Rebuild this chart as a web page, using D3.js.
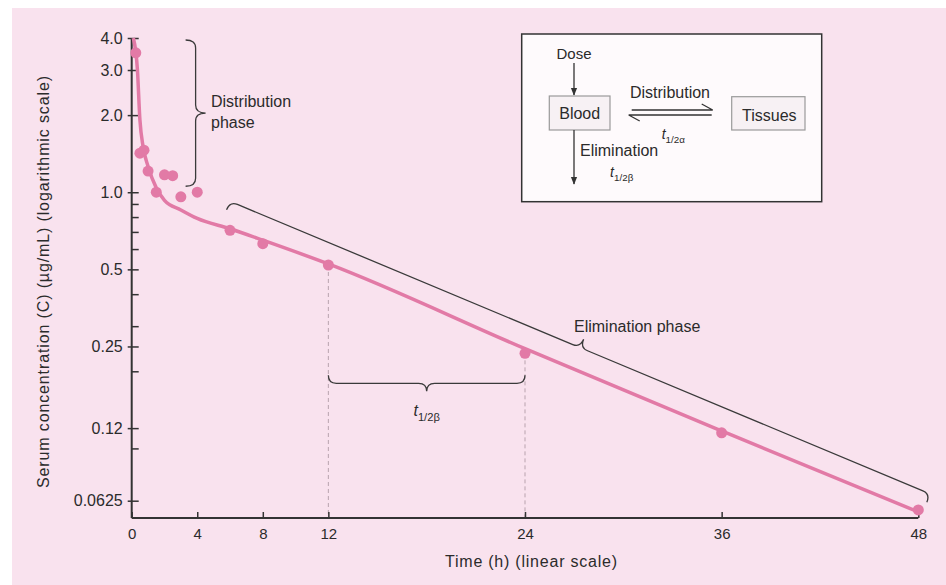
<!DOCTYPE html>
<html>
<head>
<meta charset="utf-8">
<script src="https://cdn.jsdelivr.net/npm/d3@7"></script>
<style>
  body { margin: 0; background: #fff; }
  svg text { font-family: "Liberation Sans", Arial, sans-serif; fill: #2b2b2b; }
</style>
</head>
<body>
<div id="chart"></div>
<script>
// measured serum concentrations (ug/mL) by time (h)
var timeH = [0.25, 0.5, 0.75, 1, 1.5, 2, 2.5, 3, 4, 6, 8, 12, 24, 36, 48];
var serumConc = [3.5, 1.42, 1.46, 1.21, 1.0, 1.17, 1.16, 0.96, 1.0, 0.71, 0.63, 0.52, 0.235, 0.115, 0.0575];

// fitted curve
var fitTimeH = [0.1, 0.35, 0.5, 0.7, 1, 1.5, 2, 3, 4, 6, 8, 12, 24, 36, 48];
var fitConc = [4.0, 3.0, 1.92, 1.5, 1.26, 1.04, 0.93, 0.853, 0.79, 0.72, 0.65, 0.525, 0.245, 0.117, 0.0565];

var xTicks = [0, 4, 8, 12, 24, 36, 48];
var yTicks = [4, 3, 2, 1, 0.5, 0.25, 0.12, 0.0625];
var yTickLabels = ["4.0", "3.0", "2.0", "1.0", "0.5", "0.25", "0.12", "0.0625"];
var yMinorTicks = [0.9, 0.8, 0.7, 0.6, 0.4, 0.3, 0.2, 0.1];
var halfLifeH = [12, 24];

var W = 946, H = 585;
var pink = "#e27aa6", ink = "#333";

var svg = d3.select("#chart").append("svg")
    .attr("width", W)
    .attr("height", H);

svg.append("rect").attr("width", W).attr("height", H).attr("fill", "#fff");
svg.append("rect").attr("x", 12).attr("y", 8)
    .attr("width", W - 12).attr("height", H - 8)
    .attr("fill", "#f9e2ee");

var x = d3.scaleLinear().domain([0, 48]).range([131.7, 918.3]);
var y = d3.scaleLog().domain([0.0535, 4]).range([518, 38]);

var points = timeH.map(function(t, i) { return {t: t, c: serumConc[i]}; });
var fit = fitTimeH.map(function(t, i) { return {t: t, c: fitConc[i]}; });

// half-life guides
var hl = points.filter(function(d) { return halfLifeH.indexOf(d.t) >= 0; });
svg.append("g").selectAll("line").data(hl).enter().append("line")
    .attr("x1", function(d) { return x(d.t); })
    .attr("x2", function(d) { return x(d.t); })
    .attr("y1", function(d) { return y(d.c); })
    .attr("y2", y.range()[0])
    .attr("stroke", "#b9a3ae")
    .attr("stroke-width", 1)
    .attr("stroke-dasharray", "4,3");

// axes
var yAxis = svg.append("g")
    .attr("transform", "translate(" + x(0) + ",0)")
    .call(d3.axisLeft(y).tickValues(yTicks)
        .tickFormat(function(d, i) { return yTickLabels[i]; })
        .tickSize(4).tickPadding(5).tickSizeOuter(0));
yAxis.select(".domain").remove();
yAxis.selectAll("text").style("font-size", "16px").attr("fill", ink);
yAxis.selectAll("line").attr("stroke", ink).attr("stroke-width", 1.5);

var yIn = svg.append("g")
    .attr("transform", "translate(" + x(0) + ",0)")
    .call(d3.axisRight(y).tickValues(yTicks.concat(yMinorTicks))
        .tickFormat("").tickSize(7).tickSizeOuter(0));
yIn.select(".domain").remove();
yIn.selectAll("line").attr("stroke", ink).attr("stroke-width", 1.5);

var xAxis = svg.append("g")
    .attr("transform", "translate(0," + y.range()[0] + ")")
    .call(d3.axisBottom(x).tickValues(xTicks)
        .tickSize(-6).tickPadding(10).tickSizeOuter(0));
xAxis.select(".domain").remove();
xAxis.selectAll("text").style("font-size", "15px").attr("fill", ink);
xAxis.selectAll("line").attr("stroke", ink).attr("stroke-width", 1.5);

svg.append("line")
    .attr("x1", x(0)).attr("x2", x(0))
    .attr("y1", y(4)).attr("y2", y.range()[0])
    .attr("stroke", ink).attr("stroke-width", 2);
svg.append("line")
    .attr("x1", x(0)).attr("x2", x(48))
    .attr("y1", y.range()[0]).attr("y2", y.range()[0])
    .attr("stroke", ink).attr("stroke-width", 2);

// axis titles
svg.append("text")
    .attr("transform", "translate(43,282) rotate(-90)")
    .attr("text-anchor", "middle")
    .attr("dy", "0.35em")
    .attr("textLength", 412)
    .style("font-size", "16px")
    .text("Serum concentration (C) (\u00b5g/mL) (logarithmic scale)");

svg.append("text")
    .attr("x", 531).attr("y", 567)
    .attr("text-anchor", "middle")
    .attr("textLength", 172)
    .style("font-size", "16px")
    .text("Time (h) (linear scale)");

// fitted line and points
svg.append("path")
    .datum(fit)
    .attr("fill", "none")
    .attr("stroke", pink)
    .attr("stroke-width", 3.5)
    .attr("d", d3.line()
        .x(function(d) { return x(d.t); })
        .y(function(d) { return y(d.c); })
        .curve(d3.curveMonotoneX));

svg.append("g").selectAll("circle").data(points).enter().append("circle")
    .attr("cx", function(d) { return x(d.t); })
    .attr("cy", function(d) { return y(d.c); })
    .attr("r", 5.5)
    .attr("fill", pink);

// curly braces
function brace(len, d) {
  var m = len / 2, r = 8;
  return "M0," + d + " Q0,0 " + r + ",0 L" + (m - r) + ",0 Q" + m + ",0 " + m + "," + (-d) +
      " Q" + m + ",0 " + (m + r) + ",0 L" + (len - r) + ",0 Q" + len + ",0 " + len + "," + d;
}
function drawBrace(p0, p1, d) {
  var dx = p1[0] - p0[0], dy = p1[1] - p0[1];
  var len = Math.sqrt(dx * dx + dy * dy);
  var ang = Math.atan2(dy, dx) * 180 / Math.PI;
  svg.append("path")
      .attr("transform", "translate(" + p0[0] + "," + p0[1] + ") rotate(" + ang + ")")
      .attr("d", brace(len, d))
      .attr("fill", "none")
      .attr("stroke", "#3a3a3a")
      .attr("stroke-width", 1.3);
}

drawBrace([x(3.9), y(4) + 2], [x(3.9), y(1) - 6], 10);
drawBrace([x(6), y(0.71) - 29], [x(48) + 12, y(0.0575) - 16], 9);
drawBrace([x(12), y(0.235) + 30], [x(24), y(0.235) + 30], -8);

svg.append("text").attr("x", 211).attr("y", 107)
    .style("font-size", "16px").text("Distribution");
svg.append("text").attr("x", 211).attr("y", 128)
    .style("font-size", "16px").text("phase");
svg.append("text").attr("x", 574).attr("y", 332)
    .style("font-size", "16px").text("Elimination phase");

function halfLife(sel, sub, size) {
  sel.append("tspan").style("font-style", "italic").style("font-size", size + "px").text("t");
  sel.append("tspan").attr("dy", size * 0.3).style("font-size", (size * 0.7) + "px").text(sub);
}
var tb = svg.append("text")
    .attr("x", (x(12) + x(24)) / 2).attr("y", 416)
    .attr("text-anchor", "middle");
halfLife(tb, "1/2\u03b2", 16);

// inset diagram
var inset = svg.append("g").attr("transform", "translate(521.7,34)");
inset.append("rect")
    .attr("width", 300).attr("height", 167.7)
    .attr("fill", "#fefafc")
    .attr("stroke", ink).attr("stroke-width", 1.5);

svg.append("defs").append("marker")
    .attr("id", "arrow")
    .attr("viewBox", "0 0 10 10")
    .attr("refX", 9).attr("refY", 5)
    .attr("markerWidth", 6).attr("markerHeight", 6)
    .attr("orient", "auto")
  .append("path")
    .attr("d", "M0,1 L10,5 L0,9 z")
    .attr("fill", ink);

inset.append("text").attr("x", 52.3).attr("y", 25)
    .attr("text-anchor", "middle").style("font-size", "15px").text("Dose");
inset.append("line")
    .attr("x1", 52.3).attr("x2", 52.3).attr("y1", 29).attr("y2", 61)
    .attr("stroke", ink).attr("stroke-width", 1.3)
    .attr("marker-end", "url(#arrow)");

inset.append("rect")
    .attr("x", 27.6).attr("y", 62).attr("width", 60.7).attr("height", 34)
    .attr("fill", "#f7f1f4").attr("stroke", "#9a9a9a").attr("stroke-width", 1.2);
inset.append("text").attr("x", 58).attr("y", 85)
    .attr("text-anchor", "middle").style("font-size", "16px").text("Blood");

inset.append("rect")
    .attr("x", 210).attr("y", 62.7).attr("width", 73.3).attr("height", 33.3)
    .attr("fill", "#f7f1f4").attr("stroke", "#9a9a9a").attr("stroke-width", 1.2);
inset.append("text").attr("x", 247.6).attr("y", 86.5)
    .attr("text-anchor", "middle").style("font-size", "16px").text("Tissues");

inset.append("text").attr("x", 148.3).attr("y", 64)
    .attr("text-anchor", "middle").style("font-size", "16px").text("Distribution");

// equilibrium harpoons
inset.append("path")
    .attr("d", "M110,76 L191,76 L180,70")
    .attr("fill", "none").attr("stroke", ink).attr("stroke-width", 1.3);
inset.append("path")
    .attr("d", "M190,81 L107,81 L118,87")
    .attr("fill", "none").attr("stroke", ink).attr("stroke-width", 1.3);

var ta = inset.append("text").attr("x", 151.6).attr("y", 105).attr("text-anchor", "middle");
halfLife(ta, "1/2\u03b1", 14);

inset.append("line")
    .attr("x1", 52.3).attr("x2", 52.3).attr("y1", 96).attr("y2", 150)
    .attr("stroke", ink).attr("stroke-width", 1.3)
    .attr("marker-end", "url(#arrow)");
inset.append("text").attr("x", 58.3).attr("y", 122)
    .style("font-size", "16px").text("Elimination");
var te = inset.append("text").attr("x", 100).attr("y", 143).attr("text-anchor", "middle");
halfLife(te, "1/2\u03b2", 14);
</script>
</body>
</html>
